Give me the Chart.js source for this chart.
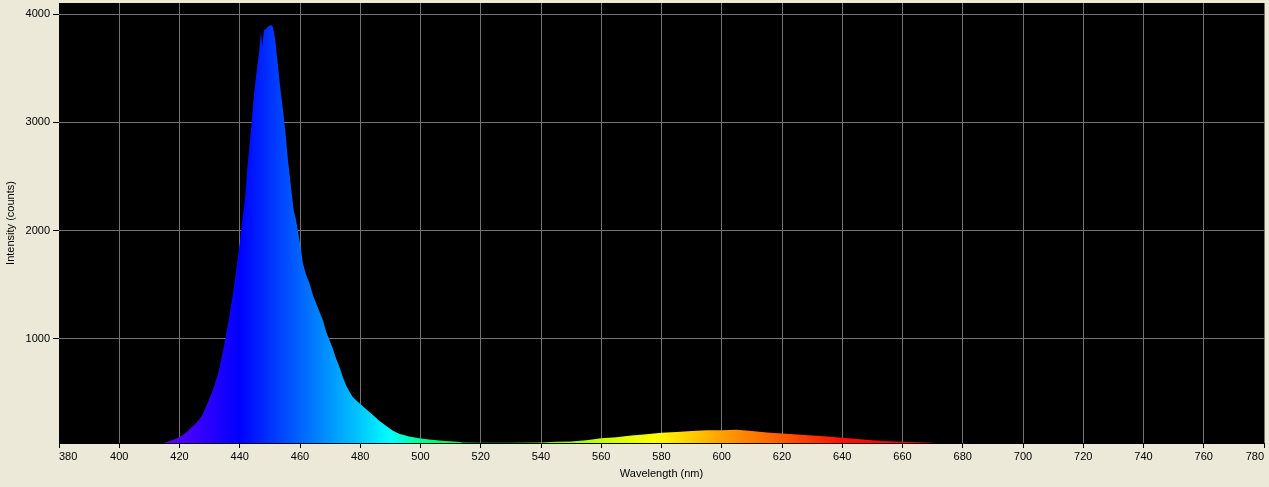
<!DOCTYPE html>
<html>
<head>
<meta charset="utf-8">
<title>Spectrum</title>
<script src="https://cdn.jsdelivr.net/npm/chart.js@4.4.1/dist/chart.umd.min.js"></script>
<style>
  html, body { margin: 0; padding: 0; background: #ECE9D8; }
  #wrap { width: 1269px; height: 487px; }
</style>
</head>
<body>
<div id="wrap"><canvas id="specChart"></canvas></div>
<script>
// wavelength (nm) and intensity (counts)
var wavelengths = [415, 416.5, 418, 420, 421.5, 423, 424, 425.3, 426.5, 427.5, 428.5, 429.7, 431.4, 433.1, 434.8,
  436.4, 438.1, 439, 440, 441, 441.8, 442.6, 443.7, 444.8, 445.6, 446.5, 447, 447.5, 448, 448.5, 449.3, 450.4, 451,
  451.7, 452.6, 453.4, 454.3, 455.2, 456, 456.8, 457.9, 458.7, 460, 461, 462.1, 463.2, 464.3, 465.4, 466.5, 467.6,
  468.7, 469.8, 470.9, 472, 473.1, 474.2, 475.3, 476.5, 477.5, 478.7, 480, 481.8, 484, 486.2, 488.4, 490.7, 492.9,
  496.2, 499.6, 502.9, 506.2, 509.6, 512.3, 514, 520, 530, 540, 545, 550, 555, 560, 565, 570, 575, 580, 585, 590,
  595, 600, 605, 610, 615, 620, 625, 630, 635, 640, 645, 650, 655, 660, 665, 670]
var counts = [38, 52, 65, 90, 115, 150, 180, 213, 250, 290, 350, 430, 550, 707, 938,
  1185, 1478, 1680, 1880, 2127, 2312, 2605, 2929, 3284, 3469, 3670, 3840, 3700, 3855, 3861, 3886, 3901, 3886,
  3778, 3546, 3330, 3130, 2898, 2651, 2451, 2188, 2096, 1880, 1694, 1586, 1509, 1401, 1324, 1247, 1170,
  1062, 985, 907, 815, 738, 645, 568, 506, 460, 429, 395, 352, 299, 244, 197, 151, 120,
  95, 80, 68, 58, 52, 46, 40, 37, 38, 40, 46, 49, 61, 80, 89, 105, 117, 129, 136, 145,
  154, 154, 157, 145, 132, 123, 114, 105, 95, 83, 71, 61, 52, 46, 43, 38]

var yTicks = [1000, 2000, 3000, 4000]

// colour of the fill along the wavelength axis
var stopWl = [380, 415, 420, 440, 460, 480, 490, 500, 510, 545, 560, 578, 600, 620, 640, 660, 780]
var stopColor = ['#6000ff', '#6000ff', '#5000ff', '#0000ff', '#0064ff', '#00c8ff', '#00ffff', '#00ff90',
  '#00ff40', '#80ff00', '#c8ff00', '#ffff00', '#ffa000', '#ff5a00', '#ff1000', '#ff0000', '#ff0000']

var points = []
for (let i = 0; i < wavelengths.length; i++) {
  points.push({x: wavelengths[i], y: counts[i]})
}

function spectrumFill(ctx) {
  var chart = ctx.chart
  if (!chart.chartArea) return '#0000ff'
  var xs = chart.scales.x
  var x0 = xs.getPixelForValue(380)
  var x1 = xs.getPixelForValue(780)
  var g = chart.ctx.createLinearGradient(x0, 0, x1, 0)
  for (let i = 0; i < stopWl.length; i++) {
    g.addColorStop((stopWl[i] - 380) / 400, stopColor[i])
  }
  return g
}

// black plot area
const blackArea = {
  id: 'blackArea',
  beforeDraw(chart) {
    const a = chart.chartArea
    chart.ctx.save()
    chart.ctx.fillStyle = '#000'
    chart.ctx.fillRect(a.left, a.top, a.right - a.left, a.bottom - a.top)
    chart.ctx.restore()
  }
}

const font = {family: 'Liberation Sans', size: 11}

new Chart(document.getElementById('specChart'), {
  type: 'line',
  data: {
    datasets: [{
      data: points,
      fill: 'start',
      backgroundColor: spectrumFill,
      borderWidth: 0,
      pointRadius: 0,
      tension: 0
    }]
  },
  options: {
    responsive: true,
    maintainAspectRatio: false,
    animation: false,
    devicePixelRatio: 1,
    layout: {padding: {top: 3, right: 5, left: 0, bottom: 0}},
    plugins: {legend: {display: false}, tooltip: {enabled: false}},
    scales: {
      x: {
        type: 'linear',
        min: 380,
        max: 780,
        border: {color: '#000', width: 1},
        grid: {
          color: (c) => c.index === 0 ? 'rgba(0,0,0,0)' : '#737373',
          tickColor: '#000',
          tickLength: 5,
          lineWidth: 1
        },
        ticks: {stepSize: 20, color: '#000', font: font, padding: 2, maxRotation: 0, align: 'inner', autoSkip: false},
        title: {display: true, text: 'Wavelength (nm)', color: '#000', font: font, padding: {top: 0, bottom: 6}},
        afterFit: (s) => { s.height = 44; s.paddingLeft = 0; s.paddingRight = 0 }
      },
      y: {
        min: 35,
        max: 4105,
        border: {display: false},
        afterBuildTicks: (s) => { s.ticks = yTicks.map(v => ({value: v})) },
        grid: {color: '#737373', tickColor: '#000', tickLength: 6, lineWidth: 1},
        ticks: {color: '#000', font: font, padding: 3, callback: (v) => String(v)},
        title: {display: true, text: 'Intensity (counts)', color: '#000', font: font, padding: {top: 4, bottom: 0}},
        afterFit: (s) => { s.width = 59; s.paddingTop = 0; s.paddingBottom = 0 }
      }
    }
  },
  plugins: [blackArea]
})
</script>
</body>
</html>
